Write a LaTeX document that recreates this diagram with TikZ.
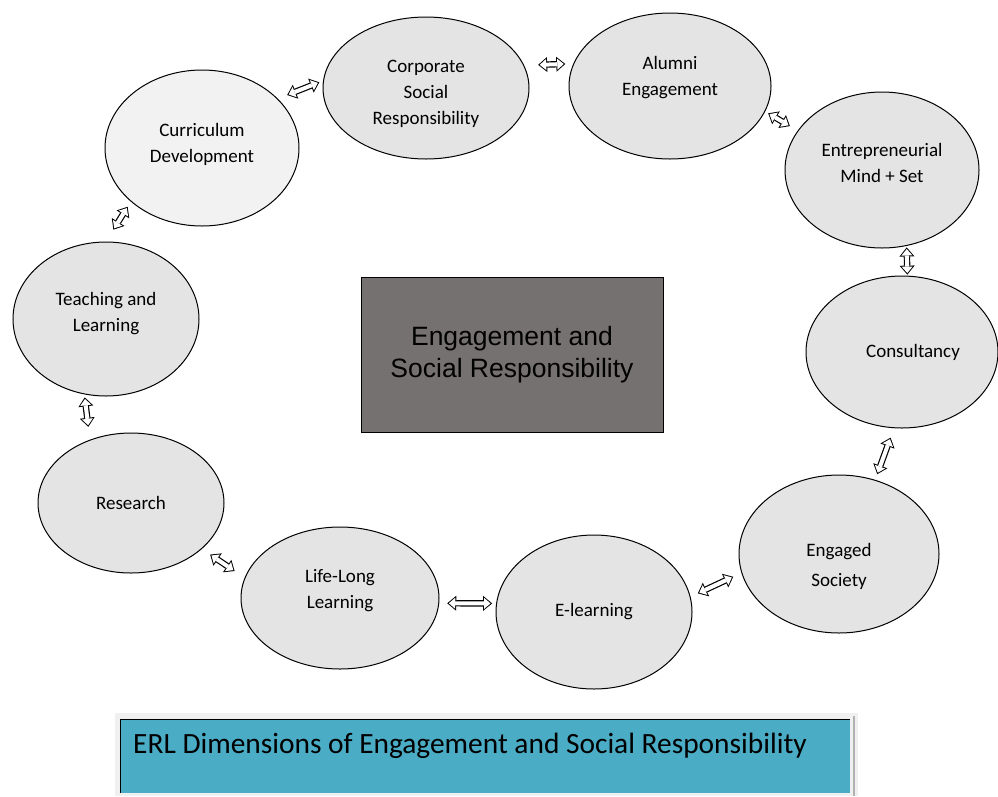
\documentclass[tikz,border=0pt]{standalone}
\usepackage{fontspec}
\setmainfont{Carlito}
\newfontfamily\hubfont{Liberation Sans}
\usetikzlibrary{arrows.meta,shapes.geometric}
\definecolor{bubble}{HTML}{E4E4E4}
\definecolor{bubblelt}{HTML}{F2F2F2}
\definecolor{hubgray}{HTML}{757170}
\definecolor{capblue}{HTML}{4BACC6}
\definecolor{capframe}{HTML}{F0F0F0}

\tikzset{
	dimension/.style={ellipse,draw=black,line width=1pt,fill=bubble,inner sep=0pt,align=center,font=\fontsize{19}{26}\selectfont},
	lift/.style={execute at end node={\rule[-#1]{0pt}{0pt}}},
	link/.style 2 args={draw=white,line width=4pt,shorten <=#1+1.6pt,shorten >=#2+1.6pt,
		{Triangle[length=6.4pt,width=11pt,line width=0pt 0 1]}-{Triangle[length=6.4pt,width=11pt,line width=0pt 0 1]},
		preaction={draw=black,line width=6.4pt,shorten <=#1,shorten >=#2,
			{Triangle[length=9pt,width=15pt,line width=0pt 0 1]}-{Triangle[length=9pt,width=15pt,line width=0pt 0 1]}}}
}
\newcommand{\sinkby}[1]{\rule{0pt}{#1}}

\begin{document}
\begin{tikzpicture}[x=1pt,y=-1pt]
	\useasboundingbox (0,0) rectangle (998,796);
	% dimensions round the hub
	\node[dimension,minimum width=206pt,minimum height=142pt] (corp) at (426,88) {\sinkby{24pt}Corporate\\Social\\Responsibility};
	\node[dimension,lift=20pt,minimum width=202pt,minimum height=146pt] (alum) at (670,86) {Alumni\\Engagement};
	\node[dimension,lift=14pt,minimum width=194pt,minimum height=156pt] (entr) at (882,170) {Entrepreneurial\\Mind + Set};
	\node[dimension,minimum width=192pt,minimum height=152pt] (cons) at (902,352) {\hspace*{22pt}Consultancy};
	\node[dimension,minimum width=200pt,minimum height=158pt] (soc) at (839,554) {\sinkby{38pt}Engaged\\[4pt]Society};
	\node[dimension,minimum width=196pt,minimum height=154pt] (elrn) at (594,612) {E-learning};
	\node[dimension,lift=18pt,minimum width=198pt,minimum height=142pt] (life) at (340,598) {Life-Long\\Learning};
	\node[dimension,minimum width=186pt,minimum height=140pt] (rsch) at (131,503) {Research};
	\node[dimension,lift=14pt,minimum width=186pt,minimum height=154pt] (teach) at (106,319) {Teaching and\\Learning};
	\node[dimension,lift=10pt,fill=bubblelt,minimum width=194pt,minimum height=156pt] (curr) at (202,148) {Curriculum\\Development};

	% hub
	\node[draw=black,line width=0.8pt,fill=hubgray,minimum width=302pt,minimum height=155pt,align=center,
		font=\hubfont\fontsize{26.5}{32}\selectfont] (hub) at (512,354.5) {Engagement and\\Social Responsibility};

	% two-way links
	\draw[link={10pt}{4pt}] (curr.33) -- (corp.176);
	\draw[link={14pt}{8pt}] (corp.13) -- (alum.167);
	\draw[link={3.5pt}{9pt}] (alum.-15) -- (entr.155);
	\draw[link={1.5pt}{1pt}] (entr.-72) -- (cons.86);
	\draw[link={10pt}{6pt}] (cons.-96) -- (soc.64);
	\draw[link={9pt}{8pt}] (soc.191) -- (elrn.9);
	\draw[link={4pt}{8pt}] (elrn.175) -- (life.-3);
	\draw[link={12pt}{10pt}] (life.168) -- (rsch.-33);
	\draw[link={13pt}{3pt}] (rsch.123) -- (teach.-106);
	\draw[link={14pt}{6pt}] (teach.90) -- (curr.217);

	% caption
	\fill[capframe] (115,713) rectangle (858,796);
	\node[fill=capblue,minimum width=729pt,minimum height=73pt,inner sep=0pt] (capbox) at (485.5,756.5) {};
	\draw[line width=1pt] (capbox.south west) -- (capbox.north west) -- (capbox.north east);
	\draw[line width=1.5pt,gray!60] (854,716) -- (854,796);
	\node[anchor=west,inner sep=0pt,font=\fontsize{29.4}{32}\selectfont] (captext) at (133,746) {ERL Dimensions of Engagement and Social Responsibility};
\end{tikzpicture}
\end{document}
